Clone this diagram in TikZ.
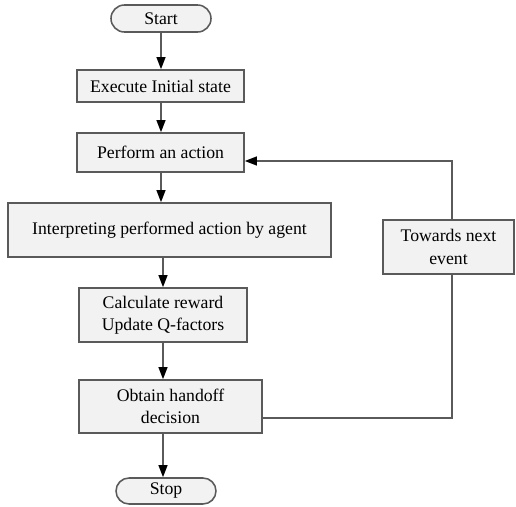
\documentclass[tikz,border=0pt]{standalone}
\usepackage{fontspec}
\setmainfont{Liberation Serif}
\usetikzlibrary{arrows.meta,shapes.misc,calc}

\definecolor{boxfill}{HTML}{F2F2F2}
\definecolor{boxline}{HTML}{5A5A5A}

\tikzset{
	stepbox/.style={draw=boxline, fill=boxfill, line width=1.1pt, rectangle, align=center, inner sep=0pt},
	endbox/.style={draw=boxline, fill=boxfill, line width=1.1pt, rounded rectangle, inner sep=0pt},
	flow/.style={draw=boxline, line width=1.1pt, -{Triangle[length=0.3cm,width=0.22cm,fill=black,color=black]}},
	back/.style={draw=boxline, line width=1.1pt}
}

\begin{document}
\begin{tikzpicture}[x=0.025cm, y=-0.025cm, font=\fontsize{12.6}{15.8}\selectfont]
		\useasboundingbox (0,0) rectangle (516,507);
		
		\node[endbox, minimum width=100*0.025cm, minimum height=27*0.025cm] (start) at (161,18.5) {Start};
		\node[stepbox, minimum width=167*0.025cm, minimum height=32*0.025cm] (exec) at (160.5,86) {Execute Initial state};
		\node[stepbox, minimum width=167*0.025cm, minimum height=39*0.025cm] (perform) at (160.5,152.5) {Perform an action};
		\node[stepbox, minimum width=323*0.025cm, minimum height=54*0.025cm] (interp) at (169.5,230) {Interpreting performed action by agent};
		\node[stepbox, minimum width=131*0.025cm, minimum height=54*0.025cm] (towards) at (448.5,247) {Towards next\\event};
		\node[stepbox, minimum width=168*0.025cm, minimum height=54*0.025cm] (calc) at (163,315) {Calculate reward\\Update Q-factors};
		\node[stepbox, minimum width=183*0.025cm, minimum height=53*0.025cm] (obtain) at (170.5,406.5) {Obtain handoff\\decision};
		\node[endbox, minimum width=100*0.025cm, minimum height=26*0.025cm] (stop) at (166,491) {Stop};
		
		\draw[flow] (start.south) -- (start.south |- exec.north);
		\draw[flow] (start.south |- exec.south) -- (start.south |- perform.north);
		\draw[flow] (start.south |- perform.south) -- (start.south |- interp.north);
		\draw[flow] (calc.north |- interp.south) -- (calc.north);
		\draw[flow] (calc.south) -- (calc.south |- obtain.north);
		\draw[flow] (calc.south |- obtain.south) -- (calc.south |- stop.north);
		
		% loop back to next event
		\draw[back] ($(obtain.east)+(0,11.5)$) -| ($(towards.south)+(3.5,0)$);
		\draw[flow] ($(towards.north)+(3.5,0)$) |- ($(perform.east)+(0,8.5)$);
	\end{tikzpicture}
\end{document}
